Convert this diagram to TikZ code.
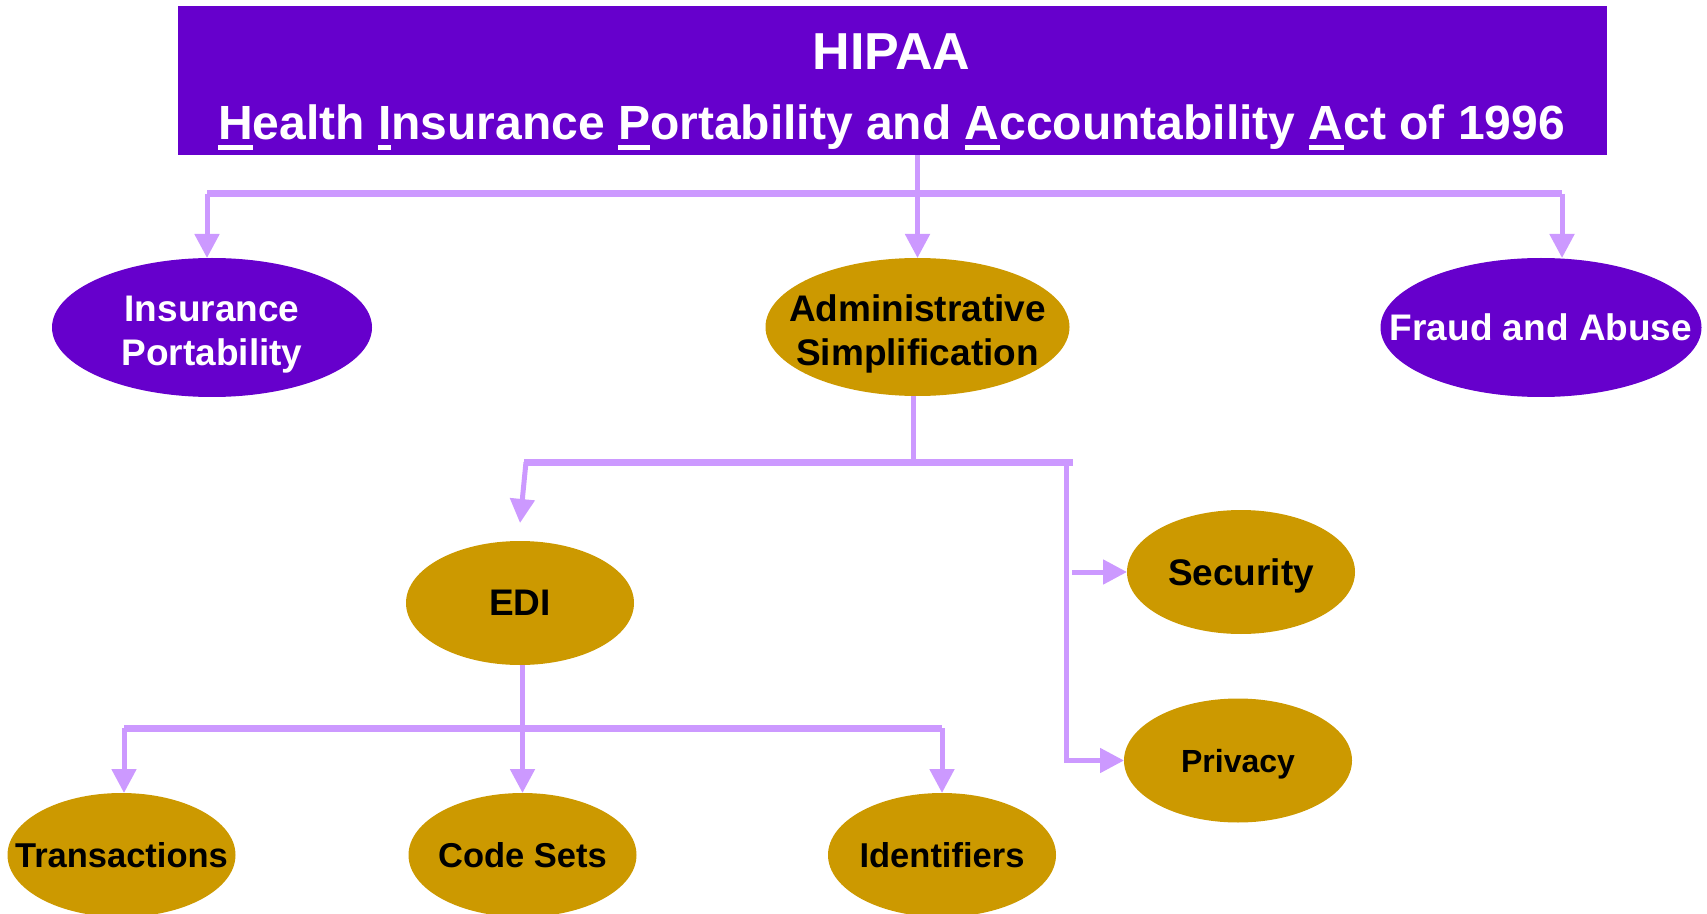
\documentclass[tikz,border=0pt]{standalone}
\usepackage{fontspec}
\setmainfont{Liberation Sans}
\usetikzlibrary{shapes.geometric,arrows.meta,calc}
\definecolor{hpurple}{HTML}{6600CC}
\definecolor{hgold}{HTML}{CC9900}
\definecolor{hline}{HTML}{CC99FF}
\newsavebox{\ulbox}
\newcommand{\ulet}[1]{\sbox{\ulbox}{#1}\rlap{\rule[-5pt]{\wd\ulbox}{2.5pt}}\usebox{\ulbox}}
\begin{document}
\begin{tikzpicture}[x=0.5pt,y=-0.5pt,
  oval/.style={ellipse, inner sep=0pt, outer sep=0pt},
  pur/.style={oval, fill=hpurple},
  gold/.style={oval, fill=hgold},
  large/.style={minimum width=160pt, minimum height=69.5pt},
  small/.style={minimum width=114pt, minimum height=62pt},
  wtext/.style={text=white, font=\fontsize{18.5}{22}\selectfont\bfseries, align=center, inner sep=0pt, text depth=0pt},
  btext/.style={text=black, font=\fontsize{18.5}{22}\selectfont\bfseries, align=center, inner sep=0pt, text depth=0pt},
  stem/.style={draw=hline, line width=2.5pt},
  bus/.style={draw=hline, line width=3.5pt},
  arr/.style={stem, -{Triangle[length=12pt,width=12pt]}}]
\useasboundingbox (0,0) rectangle (1707,914);

% title box
\node[fill=hpurple, minimum width=714.5pt, minimum height=74.5pt, inner sep=0pt] (top) at (892.5,80.5) {};
\node[text=white, font=\fontsize{26}{30}\selectfont\bfseries, anchor=base, inner sep=0pt] (title) at (891.5,70) {HIPAA};
\node[text=white, font=\fontsize{24}{28}\selectfont\bfseries, anchor=base, inner sep=0pt] (subtitle) at (891.5,140)
  {\ulet{H}ealth \ulet{I}nsurance \ulet{P}ortability and \ulet{A}ccountability \ulet{A}ct of 1996};

% first level
\node[pur, large] (ins) at (212,327.5) {};
\node[wtext] (insT) at ([yshift=-1.5pt]ins.center) {Insurance\\Portability};
\node[gold, minimum width=152pt, minimum height=69pt] (admin) at (917.5,327) {};
\node[btext] (adminT) at ([yshift=-1.5pt]admin.center) {Administrative\\Simplification};
\node[pur, minimum width=160.5pt, minimum height=69.5pt] (fraud) at (1541,327.5) {};
\node[wtext] (fraudT) at (fraud) {Fraud and Abuse};

% second level
\node[gold, small] (edi) at (520,603) {};
\node[btext] (ediT) at (edi) {EDI};
\node[gold, small] (sec) at (1241,572) {};
\node[btext] (secT) at (sec) {Security};
\node[gold, small] (priv) at (1238,760.5) {};
\node[btext, font=\fontsize{16}{19}\selectfont\bfseries] (privT) at (priv) {Privacy};

% third level
\node[gold, small] (trans) at (121.5,855) {};
\node[btext, font=\fontsize{17.25}{20}\selectfont\bfseries] (transT) at (trans) {Transactions};
\node[gold, small] (codes) at (522.5,855) {};
\node[btext, font=\fontsize{17.25}{20}\selectfont\bfseries] (codesT) at (codes) {Code Sets};
\node[gold, small] (ident) at (942,855) {};
\node[btext, font=\fontsize{17.25}{20}\selectfont\bfseries] (identT) at (ident) {Identifiers};

% connectors level 1
\coordinate (b1L) at (207,194);
\coordinate (b1R) at (1562,194);
\draw[bus] (b1L) -- (b1R);
\draw[arr] (top.south -| admin.north) -- (admin.north);
\draw[arr] (b1L) -- (b1L |- ins.north);
\draw[arr] (b1R) -- (b1R |- fraud.north);

% connectors level 2
\coordinate (b2L) at (524,462);
\coordinate (b2E) at (1073,462);
\coordinate (b2R) at (1066,462);
\draw[stem] ([xshift=-2pt]admin.south) -- ([xshift=-2pt]admin.south |- b2L);
\draw[bus] (b2L) -- (b2E);
\draw[arr] ($(b2L)+(2,0)$) -- ([yshift=9pt]edi.north);
\draw[arr] (b2R) |- (priv.west);
\draw[arr] ($(sec.west -| b2R)+(6,0)$) -- (sec.west);

% connectors level 3
\coordinate (b3L) at (124,728);
\coordinate (b3R) at (942,728);
\draw[bus] (b3L) -- (b3R);
\draw[arr] (edi.south -| codes.north) -- (codes.north);
\draw[arr] (b3L) -- (b3L |- trans.north);
\draw[arr] (b3R) -- (b3R |- ident.north);
\end{tikzpicture}
\end{document}
